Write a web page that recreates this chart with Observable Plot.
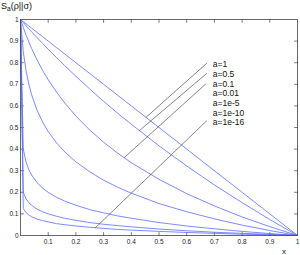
<!DOCTYPE html>
<html><head><meta charset="utf-8">
<script src="https://cdn.jsdelivr.net/npm/d3@7"></script>
<script src="https://cdn.jsdelivr.net/npm/@observablehq/plot@0.6"></script>
<style>body{margin:0;background:#fff}</style>
</head><body><div id="chart"></div>
<script>
// sampled x positions
const xs = [0, 0.01, 0.02, 0.03, 0.04, 0.06, 0.08, 0.1, 0.13, 0.16, 0.2, 0.25, 0.3, 0.35, 0.4, 0.5, 0.6, 0.7, 0.8, 0.9, 1];
// S_a values, one array per a
const s_a1    = [1, .99, .98, .97, .96, .94, .92, .9, .87, .84, .8, .75, .7, .65, .6, .5, .4, .3, .2, .1, 0];
const s_a05   = [1, .986, .971, .957, .943, .916, .889, .862, .824, .786, .737, .678, .621, .567, .515, .415, .322, .234, .152, .074, 0];
const s_a01   = [1, .963, .928, .896, .866, .812, .764, .721, .664, .613, .553, .488, .432, .382, .337, .260, .194, .137, .086, .041, 0];
const s_a001  = [1, .851, .763, .701, .652, .579, .525, .481, .429, .387, .341, .295, .256, .224, .196, .148, .110, .077, .048, .023, 0];
const s_a1e5  = [1, .400, .340, .305, .280, .244, .219, .200, .177, .159, .140, .120, .105, .091, .080, .060, .044, .031, .019, .009, 0];
const s_a1e10 = [1, .200, .170, .152, .140, .122, .110, .100, .089, .080, .070, .060, .052, .046, .040, .030, .022, .015, .010, .005, 0];
const s_a1e16 = [1, .125, .106, .095, .087, .076, .069, .063, .055, .050, .044, .038, .033, .028, .025, .019, .014, .010, .006, .003, 0];
const seriesNames = ["a=1", "a=0.5", "a=0.1", "a=0.01", "a=1e-5", "a=1e-10", "a=1e-16"];
const seriesValues = [s_a1, s_a05, s_a01, s_a001, s_a1e5, s_a1e10, s_a1e16];

// label anchor points (data units)
const labelX = [0.694, 0.694, 0.694, 0.694, 0.694, 0.694, 0.694];
const labelY = [0.792, 0.745, 0.702, 0.659, 0.613, 0.568, 0.525];

// annotation lines (data units)
const annNames = ["a=1", "a=0.5", "a=0.1", "a=1e-16"];
const annX1 = [0.453, 0.4285, 0.374, 0.27];
const annY1 = [0.547, 0.485, 0.360, 0.0355];
const annX2 = [0.673, 0.673, 0.669, 0.673];
const annY2 = [0.798, 0.751, 0.702, 0.532];

// ticks
const xTickMarks = [0.1, 0.2, 0.3, 0.4, 0.5, 0.6, 0.7, 0.8, 0.9];
const xTickLabels = [0.1, 0.2, 0.3, 0.4, 0.5, 0.6, 0.7, 0.8, 0.9, 1];
const yTickMarks = [0.1, 0.2, 0.3, 0.4, 0.5, 0.6, 0.7, 0.8, 0.9];
const yTickLabels = [0, 0.1, 0.2, 0.3, 0.4, 0.5, 0.6, 0.7, 0.8, 0.9, 1];

const rows = [];
seriesNames.forEach((name, i) => xs.forEach((x, j) => rows.push({a: name, x, y: seriesValues[i][j]})));
const labels = seriesNames.map((t, i) => ({t, x: labelX[i], y: labelY[i]}));
const anns = annNames.map((t, i) => ({t, x1: annX1[i], y1: annY1[i], x2: annX2[i], y2: annY2[i]}));

const axisColor = "#444";
const tickShape = {draw(ctx, l) { ctx.moveTo(0, 0); ctx.lineTo(0, -l); }};
const tk = {length: 3, anchor: "start", shape: tickShape, stroke: axisColor, strokeWidth: 0.7};

const svg = Plot.plot({
  width: 300, height: 255,
  marginLeft: 20, marginRight: 3, marginTop: 19, marginBottom: 20,
  style: {fontFamily: "'Liberation Sans', Arial, sans-serif", fontSize: "6.5px", background: "#fff", color: "#222"},
  x: {domain: [0, 1]},
  y: {domain: [0, 1]},
  marks: [
    Plot.vector(xTickMarks, {...tk, x: d => d, y: () => 0, rotate: 0}),
    Plot.vector(xTickMarks, {...tk, x: d => d, y: () => 1, rotate: 180}),
    Plot.vector(yTickMarks, {...tk, y: d => d, x: () => 0, rotate: 90}),
    Plot.vector(yTickMarks, {...tk, y: d => d, x: () => 1, rotate: -90}),
    Plot.line(rows, {x: "x", y: "y", z: "a", stroke: "#5a6cff", strokeWidth: 0.8}),
    Plot.link(anns, {x1: "x1", y1: "y1", x2: "x2", y2: "y2", stroke: "#333", strokeWidth: 0.6}),
    Plot.text(labels, {x: "x", y: "y", text: "t", textAnchor: "start", lineAnchor: "middle", fontSize: 8.5, fill: "#111"}),
    Plot.frame({stroke: axisColor, strokeWidth: 0.8}),
    Plot.axisX(xTickLabels, {tickSize: 0, tickPadding: 4, tickFormat: d => String(d), label: null}),
    Plot.axisY(yTickLabels, {tickSize: 0, tickPadding: 2, tickFormat: d => String(d), label: null})
  ]
});
document.getElementById("chart").appendChild(svg);

const s = d3.select(svg);
const yl = s.append("text").attr("x", 1).attr("y", 8.5)
  .attr("text-anchor", "start")
  .attr("font-size", 9).attr("fill", "#111")
  .attr("font-family", "'Liberation Sans', Arial, sans-serif");
yl.append("tspan").text("S");
yl.append("tspan").attr("font-size", 6.5).attr("dy", 2.5).text("a");
yl.append("tspan").attr("dy", -2.5).text("(ρ||σ)");
s.append("text").attr("x", 284).attr("y", 254).attr("text-anchor", "middle")
  .attr("font-size", 8).attr("fill", "#111")
  .attr("font-family", "'Liberation Sans', Arial, sans-serif").text("x");
</script>
</body></html>
